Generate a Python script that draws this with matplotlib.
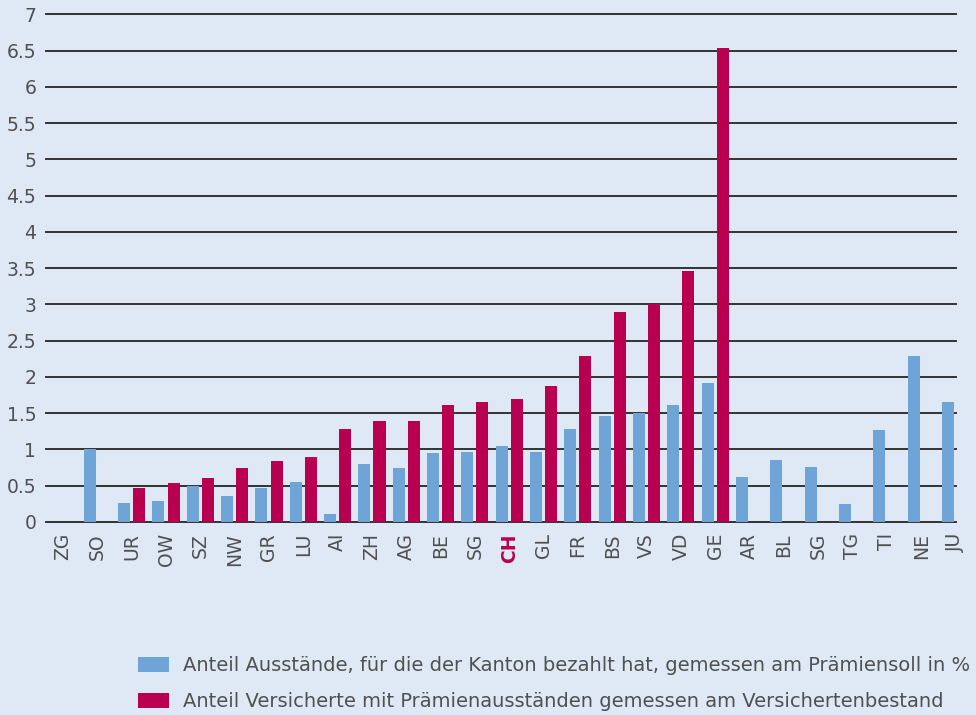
import matplotlib
matplotlib.use("Agg")
import matplotlib.pyplot as plt
import numpy as np
from matplotlib.patches import Patch

categories = ["ZG", "SO", "UR", "OW", "SZ", "NW", "GR", "LU", "AI", "ZH", "AG", "BE", "SG",
              "CH", "GL", "FR", "BS", "VS", "VD", "GE", "AR", "BL", "SG", "TG", "TI", "NE", "JU"]
blue_values = [0, 1.0, 0.26, 0.29, 0.5, 0.36, 0.47, 0.55, 0.11, 0.8, 0.75, 0.95, 0.97,
               1.05, 0.97, 1.28, 1.46, 1.5, 1.61, 1.92, 0.62, 0.85, 0.76, 0.25, 1.27, 2.29, 1.65]
red_values = [0, 0, 0.47, 0.54, 0.61, 0.75, 0.84, 0.9, 1.28, 1.39, 1.39, 1.61, 1.66,
              1.7, 1.88, 2.29, 2.9, 3.0, 3.46, 6.53, 0, 0, 0, 0, 0, 0, 0]
yticks = [0, 0.5, 1, 1.5, 2, 2.5, 3, 3.5, 4, 4.5, 5, 5.5, 6, 6.5, 7]
ytick_labels = ["0", "0.5", "1", "1.5", "2", "2.5", "3", "3.5", "4", "4.5", "5", "5.5", "6", "6.5", "7"]
legend_labels = ["Anteil Ausstände, für die der Kanton bezahlt hat, gemessen am Prämiensoll in %",
                 "Anteil Versicherte mit Prämienausständen gemessen am Versichertenbestand"]

BG = "#dfe9f5"
BLUE = "#6fa5d6"
RED = "#b90050"
TXT = "#505050"

plt.rcParams['font.family'] = ['DejaVu Sans']

fig = plt.figure(figsize=(9.76, 7.15), dpi=100, facecolor=BG)
ax = fig.add_axes([0.047, 0.270, 0.933, 0.710])
ax.set_facecolor(BG)

x = np.arange(len(categories))
w = 0.35
off = 0.22
ax.bar(x - off, blue_values, width=w, color=BLUE, zorder=3)
ax.bar(x + off, red_values, width=w, color=RED, zorder=3)

ax.set_ylim(0, 7)
ax.set_xlim(-0.5, 26.03)
ax.set_yticks(yticks)
ax.set_yticklabels(ytick_labels, fontsize=13.5, color=TXT)
ax.yaxis.grid(True, color="#333333", linewidth=1.4, zorder=1)
for gl in ax.get_ygridlines():
    gl.set_clip_on(False)
ax.set_axisbelow(True)
ax.tick_params(axis='y', length=0, pad=7)
ax.tick_params(axis='x', length=0, pad=8)
ax.set_xticks(x)
ax.set_xticklabels(categories, rotation=90, fontsize=13.5, color=TXT)
for lbl in ax.get_xticklabels():
    if lbl.get_text() == "CH":
        lbl.set_color(RED)
        lbl.set_fontweight('bold')
for s in ax.spines.values():
    s.set_visible(False)

handles = [Patch(facecolor=BLUE, edgecolor='none'), Patch(facecolor=RED, edgecolor='none')]
leg = fig.legend(handles, legend_labels, loc='upper left', bbox_to_anchor=(0.1334, 0.093),
                 frameon=False, fontsize=14, handlelength=1.6, handleheight=0.78,
                 handletextpad=0.72, labelspacing=0.88, borderaxespad=0)
for t in leg.get_texts():
    t.set_color(TXT)

fig.savefig("out.png", dpi=100, facecolor=BG)
